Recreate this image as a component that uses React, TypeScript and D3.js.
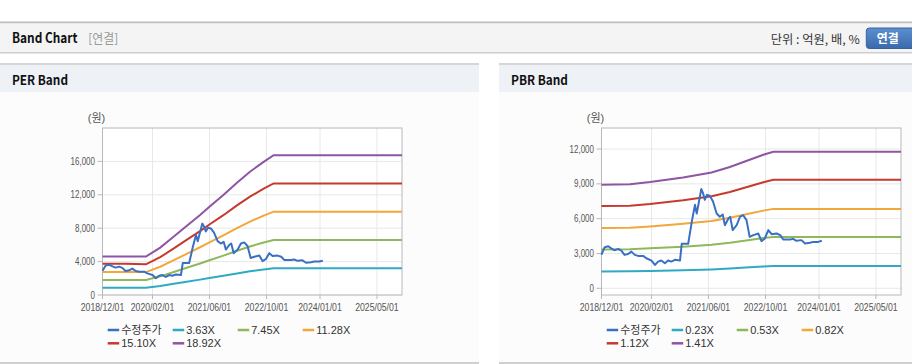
import React from "react";
import * as d3 from "d3";

// ---------- DATA ----------
const xTickLabels = ["2018/12/01", "2020/02/01", "2021/06/01", "2022/10/01", "2024/01/01", "2025/05/01"];
const xDomain = ["2018-12-01", "2025-12-01"];

const priceDates = [
  "2018-12-01", "2018-12-28", "2019-01-28", "2019-02-25", "2019-03-22", "2019-04-22", "2019-05-19",
  "2019-06-16", "2019-07-16", "2019-08-13", "2019-09-11", "2019-10-10", "2019-11-22", "2019-12-19",
  "2020-02-01", "2020-03-01", "2020-03-28", "2020-04-25", "2020-05-25", "2020-06-22", "2020-07-19",
  "2020-08-19", "2020-10-01", "2020-10-16", "2020-12-10", "2021-01-10", "2021-02-06", "2021-02-21",
  "2021-03-04", "2021-04-01", "2021-04-16", "2021-05-01", "2021-05-19", "2021-06-13", "2021-07-10",
  "2021-08-10", "2021-09-06", "2021-10-01", "2021-10-19", "2021-11-19", "2021-12-04", "2021-12-25",
  "2022-01-28", "2022-02-25", "2022-03-25", "2022-04-22", "2022-05-19", "2022-06-19", "2022-08-01",
  "2022-08-28", "2022-09-25", "2022-10-25", "2022-11-22", "2023-01-04", "2023-02-04", "2023-03-01",
  "2023-04-28", "2023-05-25", "2023-06-22", "2023-08-04", "2023-09-04", "2023-10-16", "2023-11-13",
  "2023-12-25", "2024-01-25",
];
const priceValues = [
  2900, 3540, 3620, 3420, 3280, 3400, 3250,
  2880, 2960, 3160, 2880, 2790, 2790, 2590,
  2390, 2010, 2300, 2390, 2160, 2390, 2300,
  2450, 2390, 3830, 3830, 5750, 7190, 6450,
  7030, 8550, 8200, 7620, 8050, 7970, 7480,
  6450, 6160, 6360, 5440, 6020, 6160, 5010,
  5440, 6160, 6300, 5870, 4430, 4580, 4720,
  4060, 4290, 5010, 4660, 4720, 4580, 4200,
  4200, 4260, 4090, 4150, 3860, 3920, 4000,
  4000, 4090,
];

// PER band
const perBandDates = [
  "2018-12-01", "2019-06-15", "2019-12-07", "2020-04-07", "2020-08-01", "2020-11-18", "2021-03-13",
  "2021-06-01", "2021-09-28", "2022-01-22", "2022-05-13", "2022-09-07", "2022-12-01", "2025-12-01",
];
const perLabels = ["3.63X", "7.45X", "11.28X", "15.10X", "18.92X"];
const per363 = [882, 882, 882, 1089, 1343, 1586, 1840, 2029, 2298, 2581, 2831, 3060, 3213, 3213];
const per745 = [1810, 1810, 1810, 2235, 2757, 3256, 3777, 4165, 4716, 5297, 5811, 6280, 6593, 6593];
const per1128 = [2741, 2741, 2741, 3384, 4174, 4929, 5719, 6306, 7140, 8020, 8798, 9509, 9983, 9983];
const per1510 = [3750, 3750, 3680, 4530, 5587, 6599, 7656, 8441, 9558, 10736, 11778, 12729, 13364, 13364];
const per1892 = [4600, 4600, 4600, 5676, 7000, 8268, 9592, 10576, 11976, 13452, 14758, 15950, 16744, 16744];
const perYTicks = [0, 4000, 8000, 12000, 16000];

// PBR band
const pbrBandDates = [
  "2018-12-01", "2019-08-01", "2020-01-20", "2020-10-28", "2021-06-28", "2021-12-01",
  "2022-05-19", "2022-09-13", "2022-12-07", "2025-12-01",
];
const pbrLabels = ["0.23X", "0.53X", "0.82X", "1.12X", "1.41X"];
const pbr023 = [1455, 1463, 1493, 1558, 1628, 1704, 1807, 1877, 1919, 1919];
const pbr053 = [3352, 3371, 3440, 3589, 3751, 3927, 4163, 4326, 4423, 4423];
const pbr082 = [5187, 5215, 5322, 5553, 5804, 6075, 6441, 6693, 6843, 6843];
const pbr112 = [7084, 7123, 7269, 7585, 7927, 8298, 8798, 9141, 9346, 9346];
const pbr141 = [8918, 8968, 9151, 9549, 9980, 10447, 11076, 11508, 11766, 11766];
const pbrYTicks = [0, 3000, 6000, 9000, 12000];

const priceLabel = "수정주가";
const colors = ["#3a70c4", "#2eaac3", "#8fb85a", "#f2a73b", "#c63a2e", "#8e55a3"];

// ---------- HELPERS ----------
const parse = d3.timeParse("%Y-%m-%d");
const parseTick = d3.timeParse("%Y/%m/%d");
const FONT = "'Liberation Sans', Arial, 'Noto Sans CJK KR', sans-serif";
const KFONT = "'Noto Sans CJK KR', 'Liberation Sans', sans-serif";

type BandChartProps = {
  px: number;
  pw: number;
  title: string;
  titleLen: number;
  yDomain: [number, number];
  yTicks: number[];
  bandDates: string[];
  bands: number[][];
  labels: string[];
};

function BandChart({ px, pw, title, titleLen, yDomain, yTicks, bandDates, bands, labels }: BandChartProps) {
  const left = px + 102.5;
  const right = left + 299.5;
  const top = 128;
  const bottom = 295;
  const x = d3.scaleTime().domain(xDomain.map((d) => parse(d) as Date)).range([left, right]);
  const y = d3.scaleLinear().domain(yDomain).range([bottom, top]);
  const line = d3
    .line<[Date, number]>()
    .x((d) => x(d[0]))
    .y((d) => y(d[1]));
  const bd = bandDates.map((d) => parse(d) as Date);
  const pd = priceDates.map((d) => parse(d) as Date);
  const priceD = line(pd.map((d, i) => [d, priceValues[i]]));
  const xt = xTickLabels.map((t) => ({ t, x: x(parseTick(t) as Date) }));
  const legendItems = [priceLabel, ...labels];
  const fmt = d3.format(",");
  return (
    <g>
      {/* panel */}
      <rect x={px} y={63} width={pw} height={300} fill="#fcfcfc" />
      <rect x={px} y={63} width={pw} height={2} fill="#d6d6d6" />
      <rect x={px} y={65} width={pw} height={27} fill="#eef2f7" />
      <rect x={px} y={362} width={pw} height={2} fill="#d0d0d0" />
      <text
        x={px + 12}
        y={84.5}
        fontFamily={KFONT}
        fontWeight="bold"
        fontSize={13}
        fill="#111"
        textLength={titleLen}
        lengthAdjust="spacingAndGlyphs"
      >
        {title}
      </text>
      {/* plot */}
      <rect x={left} y={top} width={right - left} height={bottom - top} fill="#ffffff" />
      {yTicks.map((t) => (
        <line key={"gy" + t} x1={left} x2={right} y1={y(t)} y2={y(t)} stroke="#e8e8e8" strokeWidth={1} />
      ))}
      {xt.map((d) => (
        <line key={"gx" + d.t} x1={d.x} x2={d.x} y1={top} y2={bottom} stroke="#e8e8e8" strokeWidth={1} />
      ))}
      <rect x={left} y={top} width={right - left} height={bottom - top} fill="none" stroke="#b8b8b8" strokeWidth={1} />
      {yTicks.map((t) => (
        <g key={"ty" + t}>
          <line x1={left - 5} x2={left} y1={y(t)} y2={y(t)} stroke="#b8b8b8" />
          <g transform={`translate(${left - 7.5},${y(t)}) scale(0.8,1)`}>
            <text x={0} y={0} dy="0.35em" textAnchor="end" fontFamily={FONT} fontSize={10} fill="#555">
              {fmt(t)}
            </text>
          </g>
        </g>
      ))}
      {xt.map((d) => (
        <g key={"tx" + d.t}>
          <line x1={d.x} x2={d.x} y1={bottom} y2={bottom + 4} stroke="#b8b8b8" />
          <g transform={`translate(${d.x},307) scale(0.87,1)`}>
            <text x={0} y={0} dy="0.35em" textAnchor="middle" fontFamily={FONT} fontSize={10} fill="#555">
              {d.t}
            </text>
          </g>
        </g>
      ))}
      <text x={left - 6} y={118.5} dy="0.35em" textAnchor="middle" fontFamily={FONT} fontSize={11} fill="#555">
        (원)
      </text>
      {/* bands */}
      {bands.map((vals, i) => (
        <path
          key={"b" + i}
          d={line(bd.map((d, j) => [d, vals[j]])) || ""}
          fill="none"
          stroke={colors[i + 1]}
          strokeWidth={2}
        />
      ))}
      <path d={priceD || ""} fill="none" stroke={colors[0]} strokeWidth={2} strokeLinejoin="round" />
      {/* legend */}
      {legendItems.map((lab, i) => {
        const row = i < 4 ? 0 : 1;
        const col = i < 4 ? i : i - 4;
        const lx = left + 5.2 + col * 65;
        const ly = row === 0 ? 330 : 343.3;
        return (
          <g key={"l" + i}>
            <line x1={lx} x2={lx + 11.5} y1={ly} y2={ly} stroke={colors[i]} strokeWidth={2.5} />
            <text x={lx + 13.5} y={ly} dy="0.36em" fontFamily={FONT} fontSize={11} fill="#333">
              {lab}
            </text>
          </g>
        );
      })}
    </g>
  );
}

export default function App() {
  return (
    <svg
      width={912}
      height={364}
      style={{ position: "absolute", left: 0, top: 0, display: "block" }}
      xmlns="http://www.w3.org/2000/svg"
    >
      <defs>
        <linearGradient id="btn" x1="0" y1="0" x2="0" y2="1">
          <stop offset="0" stopColor="#5b8fd0" />
          <stop offset="1" stopColor="#3a6aad" />
        </linearGradient>
      </defs>
      <rect x={0} y={0} width={912} height={364} fill="#ffffff" />
      {/* top header */}
      <rect x={0} y={21.5} width={912} height={2} fill="#bdbdbd" />
      <rect x={0} y={23.5} width={912} height={28.5} fill="#f4f4f4" />
      <rect x={0} y={52} width={912} height={1} fill="#cfcfcf" />
      <rect x={0} y={53} width={912} height={1} fill="#e6e6e6" />
      <text
        x={12}
        y={43}
        fontFamily={KFONT}
        fontWeight="bold"
        fontSize={14}
        fill="#111"
        textLength={65.5}
        lengthAdjust="spacingAndGlyphs"
      >
        Band Chart
      </text>
      <text x={88.3} y={43} fontFamily={KFONT} fontSize={13} fill="#999" textLength={30} lengthAdjust="spacingAndGlyphs">
        [연결]
      </text>
      <text x={859.7} y={44} textAnchor="end" fontFamily={KFONT} fontSize={12} fill="#333" textLength={89} lengthAdjust="spacingAndGlyphs">
        단위 : 억원, 배, %
      </text>
      <rect x={866.3} y={28} width={52} height={20.5} rx={3} fill="url(#btn)" stroke="#36639f" />
      <text x={887.8} y={43} textAnchor="middle" fontFamily={KFONT} fontWeight="bold" fontSize={12} fill="#ffffff">
        연결
      </text>
      <BandChart
        px={0}
        pw={479}
        title="PER Band"
        titleLen={56}
        yDomain={[0, 20000]}
        yTicks={perYTicks}
        bandDates={perBandDates}
        bands={[per363, per745, per1128, per1510, per1892]}
        labels={perLabels}
      />
      <BandChart
        px={499}
        pw={413}
        title="PBR Band"
        titleLen={57}
        yDomain={[-578, 13813]}
        yTicks={pbrYTicks}
        bandDates={pbrBandDates}
        bands={[pbr023, pbr053, pbr082, pbr112, pbr141]}
        labels={pbrLabels}
      />
    </svg>
  );
}
